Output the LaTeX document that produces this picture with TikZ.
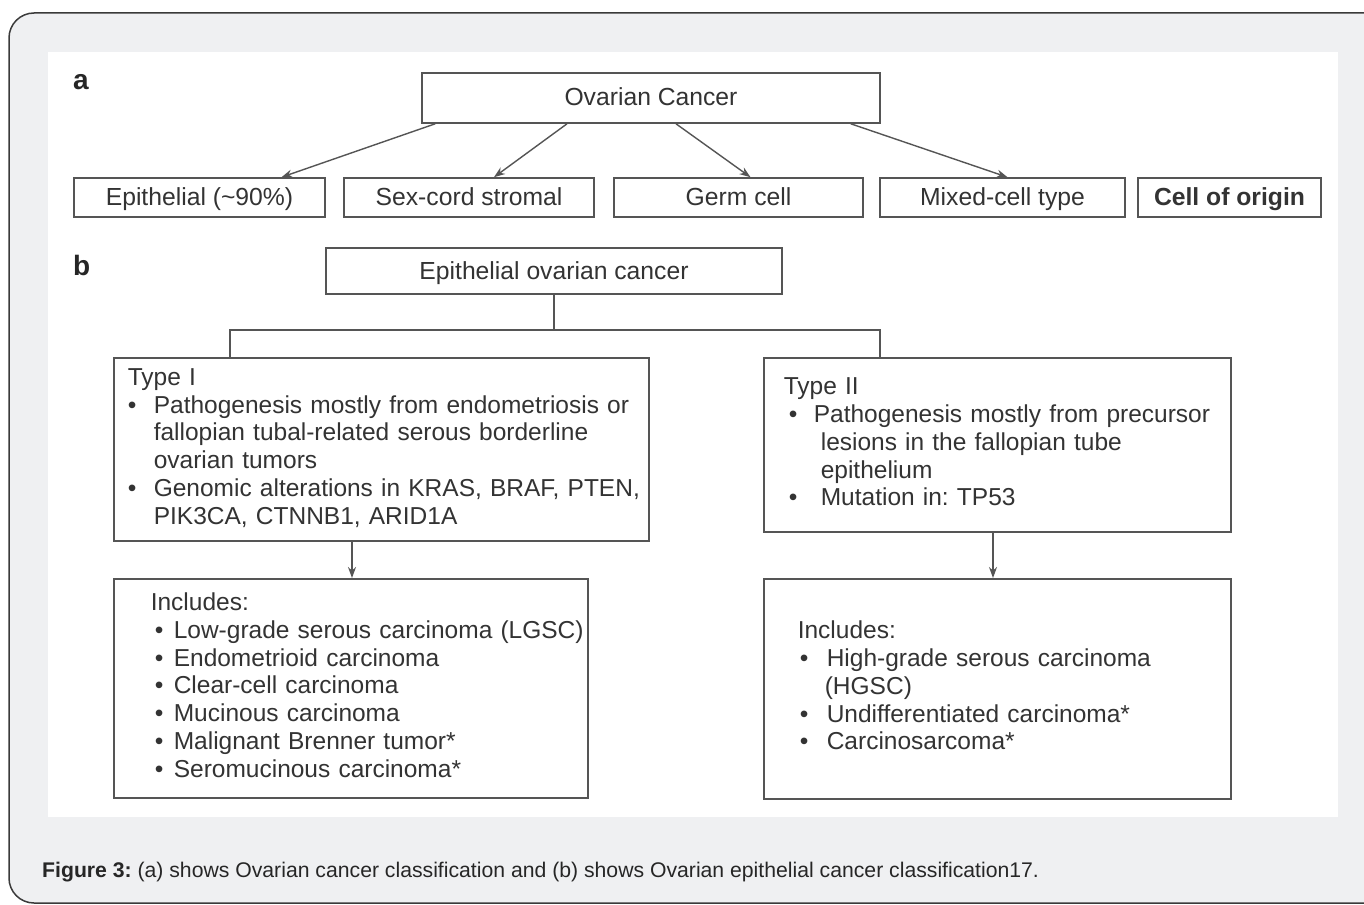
\documentclass[tikz,border=0pt]{standalone}
\usepackage{fontspec}
\setmainfont{Liberation Sans}
\usepackage{xcolor}
\usepackage{tikz}
\usetikzlibrary{arrows.meta, positioning, calc}
\definecolor{pagegray}{HTML}{EFF0F2}
\definecolor{framegray}{HTML}{3A3A3A}
\definecolor{boxline}{HTML}{555555}
\definecolor{inkgray}{HTML}{333333}
\tikzstyle{catbox} = [rectangle, draw=boxline, line width=1.6pt, minimum height=39pt, inner sep=0pt, text height=19pt, text depth=3pt, text=inkgray, font=\fontsize{24.7}{28}\selectfont]
\tikzstyle{listbox} = [rectangle, draw=boxline, line width=1.6pt, anchor=north west, inner ysep=0pt, align=left, text=inkgray, font=\fontsize{24.5}{27.8}\selectfont]
\tikzstyle{panel} = [anchor=base west, inner sep=0pt, text=black!85, font=\fontsize{28}{28}\selectfont\bfseries]
\tikzstyle{arrow} = [line width=1.4pt, draw=boxline, -{Stealth[length=11pt,width=8pt]}]
\tikzstyle{link} = [line width=1.4pt, draw=boxline]
\newcommand{\bul}[1]{\makebox[#1][l]{\textbullet}}

\begin{document}
\frenchspacing
\begin{tikzpicture}[x=1pt, y=-1pt]
        \useasboundingbox (0,0) rectangle (1364,904);
        % Page frame
        \draw [rounded corners=25pt, fill=pagegray, draw=framegray, line width=1.5pt] (9,13) rectangle (1392,903);
        \fill [white] (48,52) rectangle (1338,817);

        % a: cell of origin
        \node (lbla) [panel] at (73,90) {a};
        \node (ovarian) [catbox, minimum width=458pt, minimum height=50pt] at (651,98) {Ovarian Cancer};
        \node (epi) [catbox, minimum width=251pt] at (199.5,197.5) {Epithelial (\textasciitilde 90\%)};
        \node (sexcord) [catbox, minimum width=250pt] at (469,197.5) {Sex-cord stromal};
        \node (germ) [catbox, minimum width=249pt] at (738.5,197.5) {Germ cell};
        \node (mixed) [catbox, minimum width=245pt] at (1002.5,197.5) {Mixed-cell type};
        \node (origin) [catbox, minimum width=183pt, font=\fontsize{24.7}{28}\selectfont\bfseries] at (1229.5,197.5) {Cell of origin};

        % b: epithelial types
        \node (lblb) [panel] at (73,275) {b};
        \node (eoc) [catbox, minimum width=456pt, minimum height=46pt] at (554,271) {Epithelial ovarian cancer};
        \node (typeone) [listbox, minimum width=535pt, minimum height=183pt, inner xsep=14pt, text width=507pt] at (113,357) {%
          \begin{tabular}{@{}l@{}}
          Type I\\
          \bul{26pt}Pathogenesis mostly from endometriosis or\\
          \hspace*{26pt}fallopian tubal-related serous borderline\\
          \hspace*{26pt}ovarian tumors\\
          \bul{26pt}Genomic alterations in KRAS, BRAF, PTEN,\\
          \hspace*{26pt}PIK3CA, CTNNB1, ARID1A
          \end{tabular}};
        \node (typetwo) [listbox, minimum width=467pt, minimum height=174pt, inner xsep=20pt, text width=427pt] at (763,357) {%
          \begin{tabular}{@{}l@{}}
          Type II\\
          \hspace*{5pt}\bul{25pt}Pathogenesis mostly from precursor\\
          \hspace*{37pt}lesions in the fallopian tube\\
          \hspace*{37pt}epithelium\\
          \hspace*{5pt}\bul{32pt}Mutation in: TP53
          \end{tabular}};
        \node (inclone) [listbox, minimum width=474pt, minimum height=219pt, inner xsep=37pt, text width=400pt] at (113,578) {%
          \begin{tabular}{@{}l@{}}
          Includes:\\
          \hspace*{4pt}\bul{19pt}Low-grade serous carcinoma (LGSC)\\
          \hspace*{4pt}\bul{19pt}Endometrioid carcinoma\\
          \hspace*{4pt}\bul{19pt}Clear-cell carcinoma\\
          \hspace*{4pt}\bul{19pt}Mucinous carcinoma\\
          \hspace*{4pt}\bul{19pt}Malignant Brenner tumor*\\
          \hspace*{4pt}\bul{19pt}Seromucinous carcinoma*
          \end{tabular}};
        \node (incltwo) [listbox, minimum width=467pt, minimum height=220pt, inner xsep=34pt, text width=399pt] at (763,578) {%
          \begin{tabular}{@{}l@{}}
          Includes:\\
          \hspace*{2pt}\bul{27pt}High-grade serous carcinoma\\
          \hspace*{27pt}(HGSC)\\
          \hspace*{2pt}\bul{27pt}Undifferentiated carcinoma*\\
          \hspace*{2pt}\bul{27pt}Carcinosarcoma*
          \end{tabular}};

        % Caption
        \node (caption) [anchor=base west, inner sep=0pt, text=black!85, font=\fontsize{21.2}{25}\selectfont] at (42,877) {\textbf{Figure 3:} (a) shows Ovarian cancer classification and (b) shows Ovarian epithelial cancer classification17.};

        % Arrows
        \draw [arrow] ([xshift=14pt]ovarian.south west) -- ([xshift=82pt]epi.north);
        \draw [arrow] ([xshift=-84pt]ovarian.south) -- ([xshift=25pt]sexcord.north);
        \draw [arrow] ([xshift=25pt]ovarian.south) -- ([xshift=12pt]germ.north);
        \draw [arrow] ([xshift=-30pt]ovarian.south east) -- ([xshift=5pt]mixed.north);
        \coordinate (split) at ($(eoc.south)+(0,35)$);
        \draw [link] (eoc.south) -- (split);
        \draw [link] ([xshift=117pt]typeone.north west) |- (split) -| ([xshift=117pt]typetwo.north west);
        \draw [arrow] ([xshift=239pt]typeone.south west) -- ([xshift=239pt]inclone.north west);
        \draw [arrow] ([xshift=230pt]typetwo.south west) -- ([xshift=230pt]incltwo.north west);
      \end{tikzpicture}
\end{document}
